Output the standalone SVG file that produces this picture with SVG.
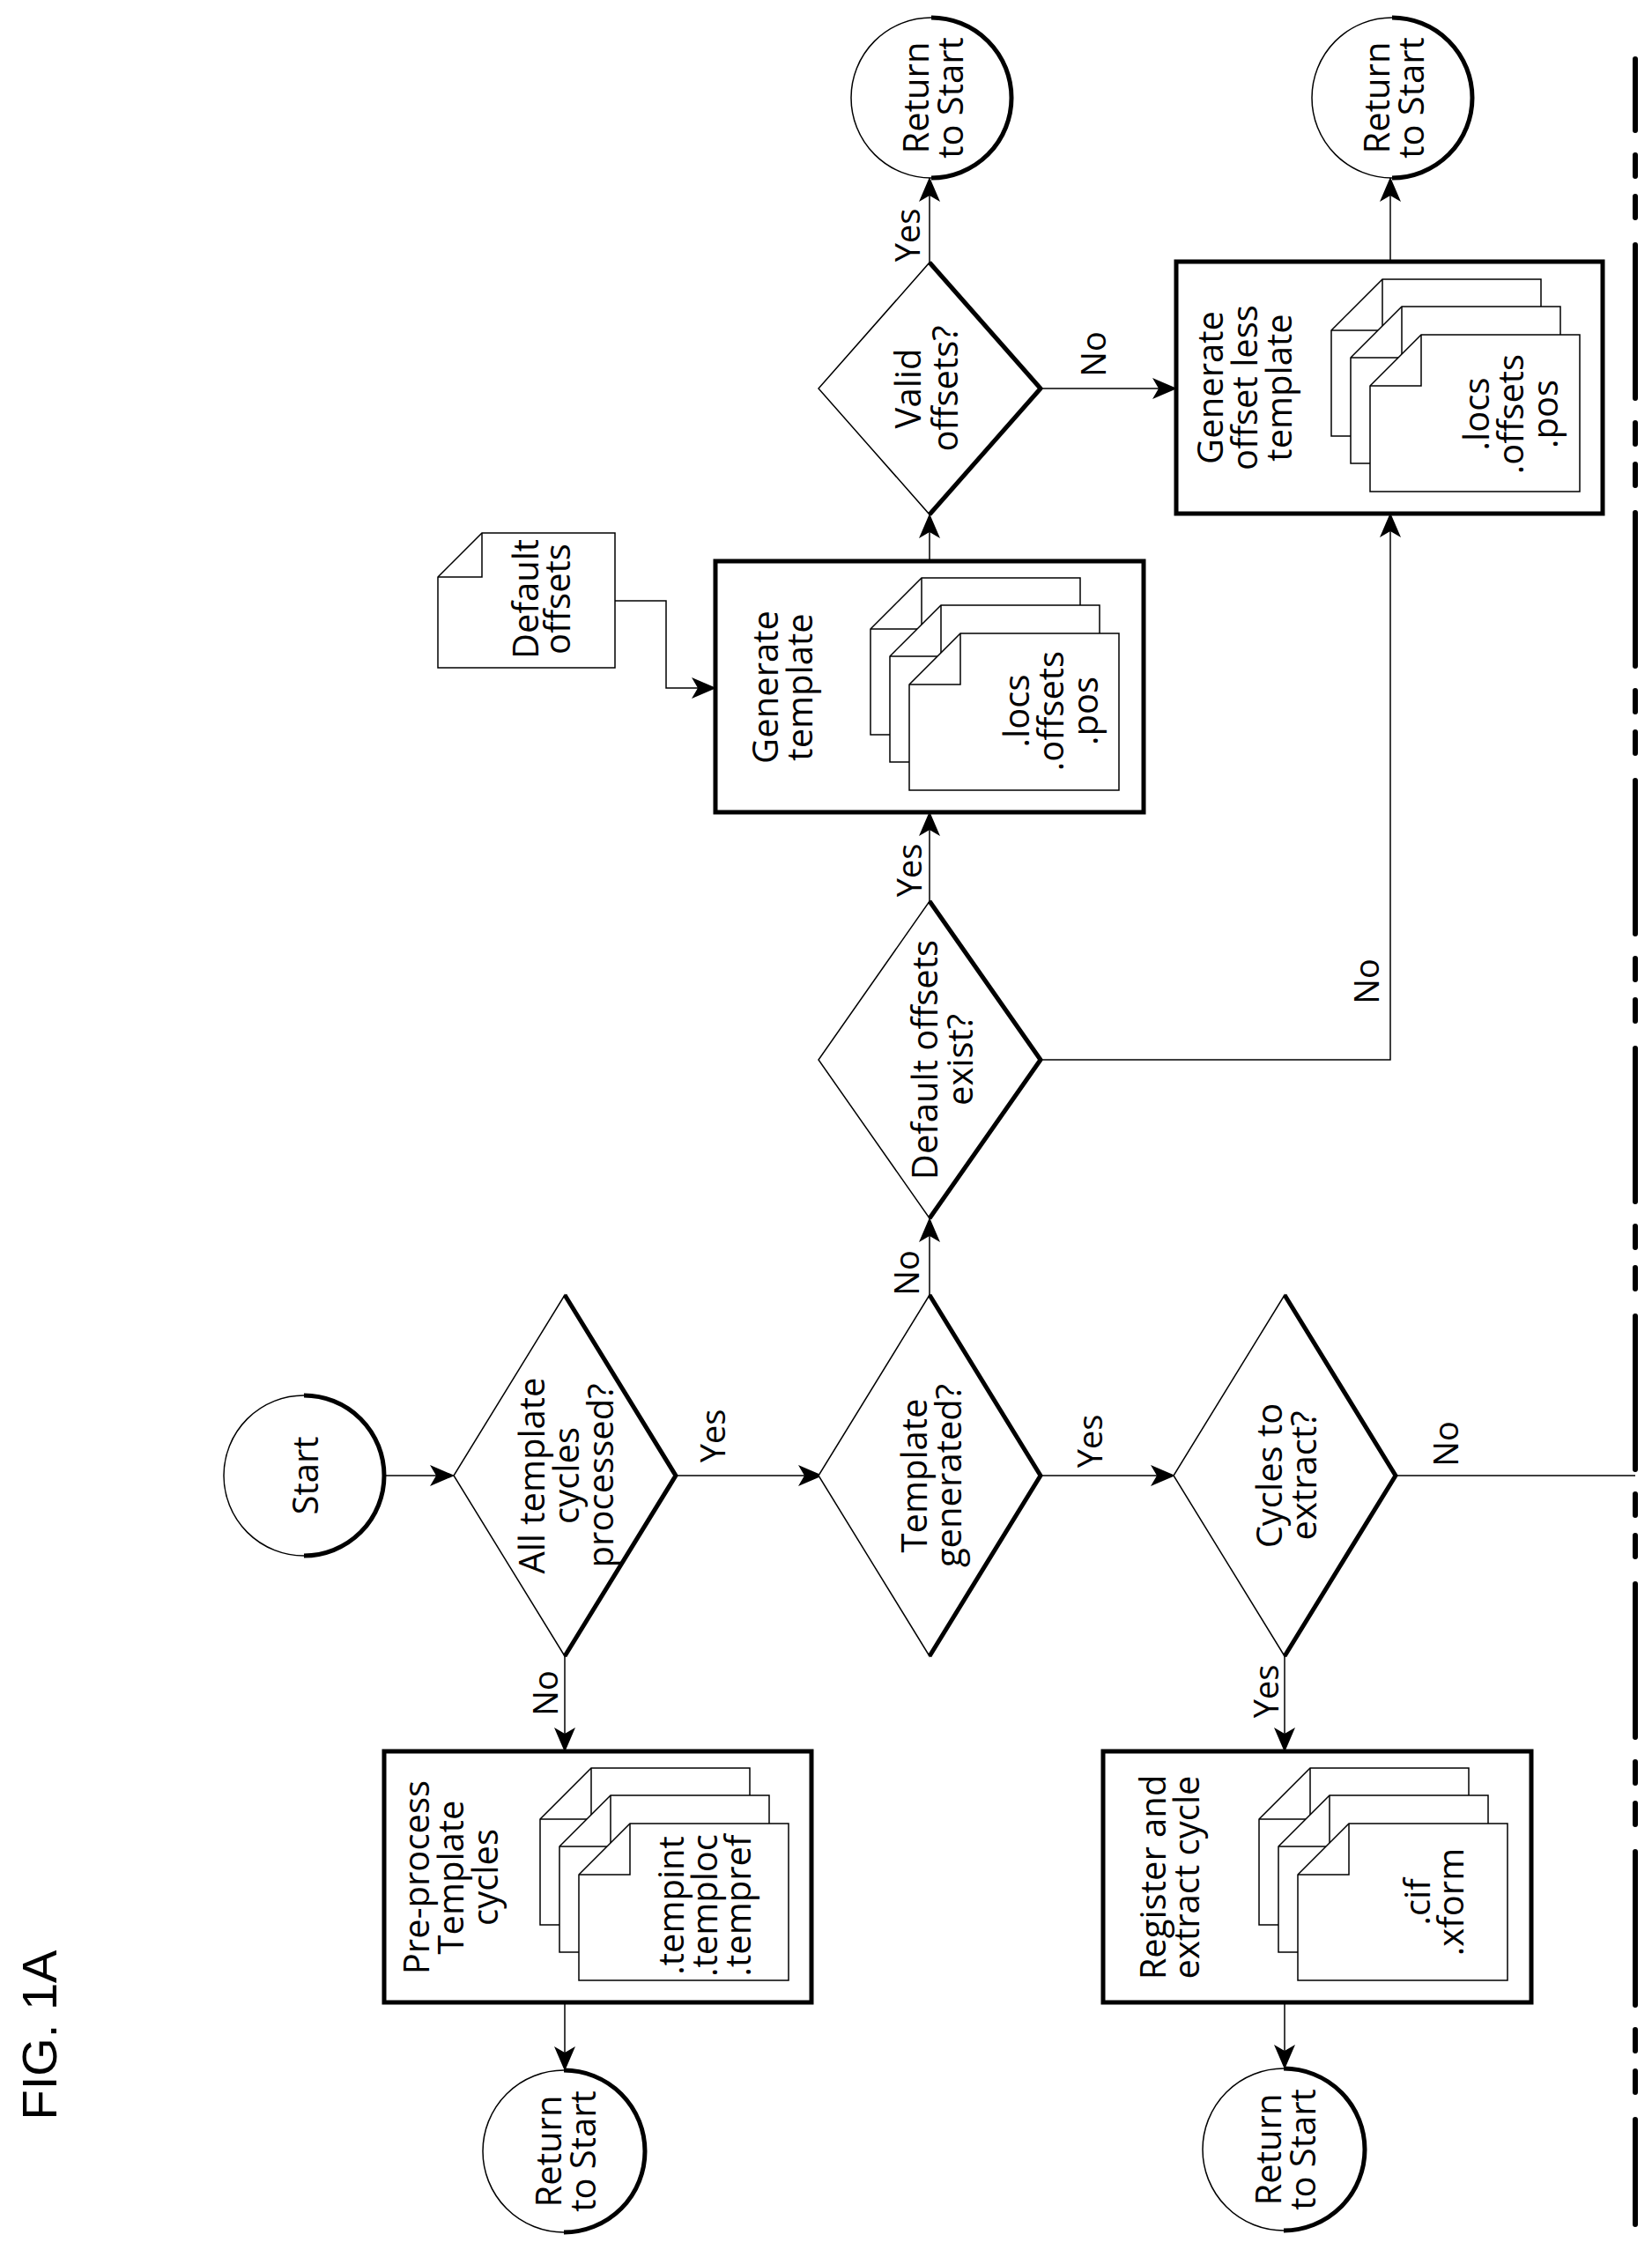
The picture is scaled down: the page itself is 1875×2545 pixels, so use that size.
<svg xmlns="http://www.w3.org/2000/svg" width="1875" height="2545" viewBox="0 0 1875 2545">
<style>
.t{font-family:"Open Sans","DejaVu Sans",sans-serif;font-size:40px;fill:#000;text-anchor:middle;dominant-baseline:central}
.sm{font-size:38px}
.fig{font-family:"Liberation Sans",Arial,sans-serif;font-size:56px;fill:#000;text-anchor:middle;dominant-baseline:central}
.thin{fill:#fff;stroke:#000;stroke-width:1.5}
.heavy{fill:none;stroke:#000;stroke-width:5;stroke-linejoin:round}
.box{fill:#fff;stroke:#000;stroke-width:5}
.pg{fill:#fff;stroke:#000;stroke-width:1.5}
.ln{fill:none;stroke:#000;stroke-width:1.5}
.ar{fill:none;stroke:#000;stroke-width:1.5;marker-end:url(#ah)}
</style>
<defs>
<marker id="ah" markerUnits="userSpaceOnUse" markerWidth="28" markerHeight="24" viewBox="0 0 28 24" refX="27" refY="12" orient="auto">
<path d="M0,0 L28,12 L0,24 L7,12 Z" fill="#000"/>
</marker>
<g id="stack">
<path class="pg" d="M0,58 L58,0 L238,0 L238,178 L0,178 Z"/><path class="ln" d="M0,58 L58,58 L58,0"/>
<path class="pg" transform="translate(22,31)" d="M0,58 L58,0 L238,0 L238,178 L0,178 Z"/><path class="ln" transform="translate(22,31)" d="M0,58 L58,58 L58,0"/>
<path class="pg" transform="translate(44,63)" d="M0,58 L58,0 L238,0 L238,178 L0,178 Z"/><path class="ln" transform="translate(44,63)" d="M0,58 L58,58 L58,0"/>
</g>
</defs>

<text class="fig" transform="translate(44,2310) rotate(-90)">FIG. 1A</text>

<g id="connectors">
<path class="ar" d="M436,1675 L515,1675"/>
<path class="ar" d="M767,1675 L933,1675"/>
<path class="ar" d="M1181,1675 L1333,1675"/>
<path class="ln" d="M1584,1675 L1856,1675"/>
<path class="ar" d="M641,1880 L641,1988"/>
<path class="ar" d="M641,2273 L641,2350"/>
<path class="ar" d="M1458,1880 L1458,1988"/>
<path class="ar" d="M1458,2273 L1458,2348"/>
<path class="ar" d="M1055,1470 L1055,1383"/>
<path class="ar" d="M1055,1023 L1055,922"/>
<path class="ar" d="M1055,637 L1055,584"/>
<path class="ar" d="M1055,298 L1055,202"/>
<path class="ar" d="M1181,441 L1335,441"/>
<path class="ar" d="M1181,1203 L1578,1203 L1578,583"/>
<path class="ar" d="M1578,297 L1578,202"/>
<path class="ar" d="M698,682 L756,682 L756,781 L812,781"/>
<text class="t sm" transform="translate(618,1922) rotate(-90)">No</text>
<text class="t sm" transform="translate(808,1630) rotate(-90)">Yes</text>
<text class="t sm" transform="translate(1236,1636) rotate(-90)">Yes</text>
<text class="t sm" transform="translate(1640,1639) rotate(-90)">No</text>
<text class="t sm" transform="translate(1436,1920) rotate(-90)">Yes</text>
<text class="t sm" transform="translate(1028,1445) rotate(-90)">No</text>
<text class="t sm" transform="translate(1031,988) rotate(-90)">Yes</text>
<text class="t sm" transform="translate(1550,1114) rotate(-90)">No</text>
<text class="t sm" transform="translate(1029,267) rotate(-90)">Yes</text>
<text class="t sm" transform="translate(1240,402) rotate(-90)">No</text>
</g>

<path d="M1856,67 L1856,2525" fill="none" stroke="#000" stroke-width="6" stroke-linecap="round" stroke-dasharray="174 28 24 23 24 31" stroke-dashoffset="93"/>

<g id="start">
<circle class="thin" cx="345" cy="1675" r="91"/><path class="heavy" d="M345,1584 A91,91 0 0 1 345,1766"/>
<text class="t" transform="translate(345,1675) rotate(-90)">Start</text>
</g>

<g id="d1">
<path class="thin" d="M641,1470 L767,1675 L641,1880 L515,1675 Z"/><path class="heavy" d="M641,1470 L767,1675 L641,1880"/>
<text class="t" transform="translate(641,1675) rotate(-90)"><tspan x="0" y="-39">All template</tspan><tspan x="0" y="0">cycles</tspan><tspan x="0" y="39">processed?</tspan></text>
</g>

<g id="d2">
<path class="thin" d="M1055,1470 L1181,1675 L1055,1880 L929,1675 Z"/><path class="heavy" d="M1055,1470 L1181,1675 L1055,1880"/>
<text class="t" transform="translate(1055,1675) rotate(-90)"><tspan x="0" y="-19.5">Template</tspan><tspan x="0" y="19.5">generated?</tspan></text>
</g>

<g id="d3">
<path class="thin" d="M1458,1470 L1584,1675 L1458,1880 L1332,1675 Z"/><path class="heavy" d="M1458,1470 L1584,1675 L1458,1880"/>
<text class="t" transform="translate(1458,1675) rotate(-90)"><tspan x="0" y="-19.5">Cycles to</tspan><tspan x="0" y="19.5">extract?</tspan></text>
</g>

<g id="preprocess">
<rect class="box" x="436" y="1988" width="485" height="285"/>
<text class="t" transform="translate(510,2131) rotate(-90)"><tspan x="0" y="-39">Pre-process</tspan><tspan x="0" y="0">Template</tspan><tspan x="0" y="39">cycles</tspan></text>
<use href="#stack" transform="translate(613,2007)"/>
<text class="t" transform="translate(798,2163) rotate(-90)"><tspan x="0" y="-38">.tempint</tspan><tspan x="0" y="0">.temploc</tspan><tspan x="0" y="38">.tempref</tspan></text>
</g>

<g id="ret1">
<circle class="thin" cx="640" cy="2442" r="92"/><path class="heavy" d="M640,2350 A92,92 0 0 1 640,2534"/>
<text class="t" transform="translate(640,2442) rotate(-90)"><tspan x="0" y="-19.5">Return</tspan><tspan x="0" y="19.5">to Start</tspan></text>
</g>

<g id="register">
<rect class="box" x="1252" y="1988" width="486" height="285"/>
<text class="t" transform="translate(1326,2131) rotate(-90)"><tspan x="0" y="-19">Register and</tspan><tspan x="0" y="19">extract cycle</tspan></text>
<use href="#stack" transform="translate(1429,2007)"/>
<text class="t" transform="translate(1626,2159) rotate(-90)"><tspan x="0" y="-19">.cif</tspan><tspan x="0" y="19">.xform</tspan></text>
</g>

<g id="ret2">
<circle class="thin" cx="1457" cy="2440" r="92"/><path class="heavy" d="M1457,2348 A92,92 0 0 1 1457,2532"/>
<text class="t" transform="translate(1457,2440) rotate(-90)"><tspan x="0" y="-19.5">Return</tspan><tspan x="0" y="19.5">to Start</tspan></text>
</g>

<g id="defexist">
<path class="thin" d="M1055,1023 L1181,1203 L1055,1383 L929,1203 Z"/><path class="heavy" d="M1055,1023 L1181,1203 L1055,1383"/>
<text class="t" transform="translate(1068,1203) rotate(-90)"><tspan x="0" y="-20">Default offsets</tspan><tspan x="0" y="20">exist?</tspan></text>
</g>

<g id="defoffsets">
<path class="pg" d="M497,655 L547,605 L698,605 L698,758 L497,758 Z"/><path class="ln" d="M497,655 L547,655 L547,605"/>
<text class="t" transform="translate(613,680) rotate(-90)"><tspan x="0" y="-18">Default</tspan><tspan x="0" y="18">offsets</tspan></text>
</g>

<g id="gentemplate">
<rect class="box" x="812" y="637" width="486" height="285"/>
<text class="t" transform="translate(886,780) rotate(-90)"><tspan x="0" y="-19.5">Generate</tspan><tspan x="0" y="19.5">template</tspan></text>
<use href="#stack" transform="translate(988,656)"/>
<text class="t" transform="translate(1191,807) rotate(-90)"><tspan x="0" y="-39">.locs</tspan><tspan x="0" y="0">.offsets</tspan><tspan x="0" y="39">.pos</tspan></text>
</g>

<g id="valid">
<path class="thin" d="M1055,298 L1181,441 L1055,584 L929,441 Z"/><path class="heavy" d="M1055,298 L1181,441 L1055,584"/>
<text class="t" transform="translate(1050,441) rotate(-90)"><tspan x="0" y="-21">Valid</tspan><tspan x="0" y="21">offsets?</tspan></text>
</g>

<g id="ret3">
<circle class="thin" cx="1057" cy="111" r="91"/><path class="heavy" d="M1057,20 A91,91 0 0 1 1057,202"/>
<text class="t" transform="translate(1057,111) rotate(-90)"><tspan x="0" y="-19.5">Return</tspan><tspan x="0" y="19.5">to Start</tspan></text>
</g>

<g id="offless">
<rect class="box" x="1335" y="297" width="484" height="286"/>
<text class="t" transform="translate(1411,440) rotate(-90)"><tspan x="0" y="-39">Generate</tspan><tspan x="0" y="0">offset less</tspan><tspan x="0" y="39">template</tspan></text>
<use href="#stack" transform="translate(1511,317)"/>
<text class="t" transform="translate(1713,470) rotate(-90)"><tspan x="0" y="-39">.locs</tspan><tspan x="0" y="0">.offsets</tspan><tspan x="0" y="39">.pos</tspan></text>
</g>

<g id="ret4">
<circle class="thin" cx="1580" cy="111" r="91"/><path class="heavy" d="M1580,20 A91,91 0 0 1 1580,202"/>
<text class="t" transform="translate(1580,111) rotate(-90)"><tspan x="0" y="-19.5">Return</tspan><tspan x="0" y="19.5">to Start</tspan></text>
</g>
</svg>
